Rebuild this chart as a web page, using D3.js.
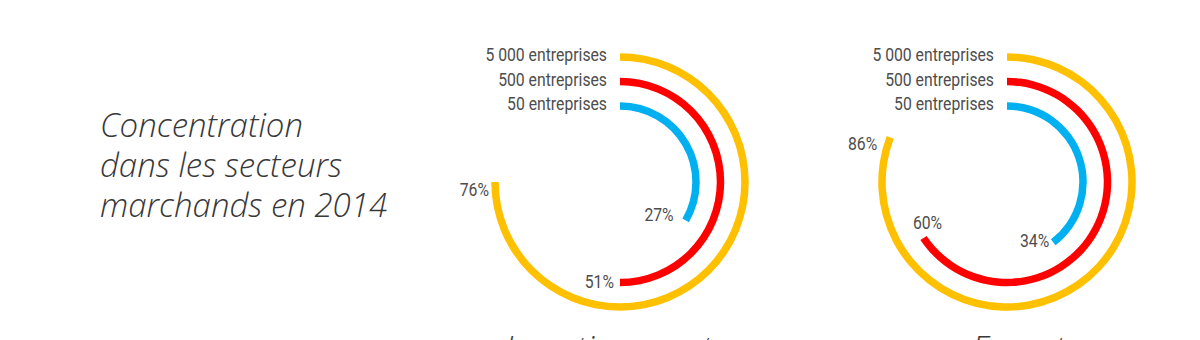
<!DOCTYPE html>
<html>
<head>
<meta charset="utf-8">
<script src="https://cdn.jsdelivr.net/npm/d3@7/dist/d3.min.js"></script>
<style>
  html, body { margin: 0; padding: 0; background: #ffffff; }
  svg { display: block; }
  .title { font-family: "Open Sans", Lato, sans-serif; font-style: italic; font-weight: 300; fill: #383838; }
  .lbl { font-family: Roboto, "DejaVu Sans", sans-serif; font-weight: 400; fill: #4d4d4d; }
</style>
</head>
<body>
<svg id="chart" width="1200" height="340"></svg>
<script>
// ---- data ----
const titleLines = ["Concentration", "dans les secteurs", "marchands en 2014"];
const categories = ["Investissement", "Export"];
const series = ["5 000 entreprises", "500 entreprises", "50 entreprises"];
const seriesColors = ["#FFC000", "#FF0000", "#00B0F0"];
// labelled shares (%)
const investissementShare = [76, 51, 27];
const exportShare = [86, 60, 34];
// arc extent as drawn in the picture (fraction of a full turn)
const investissementArc = [0.75, 0.50, 0.334];
const exportArc = [0.808, 0.656, 0.396];

const shares = [investissementShare, exportShare];
const arcs = [investissementArc, exportArc];

// ---- layout ----
const svg = d3.select("#chart");
const centersX = d3.scalePoint().domain(categories).range([620, 1007]);
const cy = 182;
const radius = d3.scalePoint().domain(series).range([125, 76]);
const angle = d3.scaleLinear().domain([0, 1]).range([0, 2 * Math.PI]);
const color = d3.scaleOrdinal().domain(series).range(seriesColors);
const strokeW = 7.5;
const condense = 0.83;

// title
const title = svg.append("text").attr("class", "title").attr("x", 100).attr("y", 137).style("font-size", "33px");
titleLines.forEach((l, i) => {
  title.append("tspan").attr("x", 100).attr("y", 137 + i * 40).text(l);
});

// label nudges relative to arc end (layout only)
const nudge = [
  [{dx: -6, dy: 14, a: "end"}, {dx: -6, dy: 5, a: "end"}, {dx: -12, dy: 1, a: "end"}],
  [{dx: -13, dy: 13, a: "end"}, {dx: 4, dy: -9, a: "middle"}, {dx: -4, dy: 5, a: "end"}]
];

const arcGen = d3.arc();

function condensedText(parent, x, y, anchor, txt) {
  return parent.append("text").attr("class", "lbl")
    .attr("transform", `translate(${x},${y}) scale(${condense},1)`)
    .attr("text-anchor", anchor)
    .style("font-size", "19px")
    .text(txt);
}

categories.forEach((cat, ci) => {
  const g = svg.append("g").attr("transform", `translate(${centersX(cat)},${cy})`);
  series.forEach((s, si) => {
    const r = radius(s);
    const end = angle(arcs[ci][si]);
    g.append("path")
      .attr("d", arcGen({innerRadius: r - strokeW / 2, outerRadius: r + strokeW / 2, startAngle: 0, endAngle: end}))
      .attr("fill", color(s));
    // series label at arc start
    condensedText(g, -13, -r + 4, "end", s);
    // value label at arc end
    const ex = r * Math.sin(end), ey = -r * Math.cos(end);
    const n = nudge[ci][si];
    condensedText(g, ex + n.dx, ey + n.dy, n.a, shares[ci][si] + "%");
  });
  // category title under chart (cut by the frame, as in the reference)
  svg.append("text").attr("class", "title")
    .attr("x", ci === 0 ? 505 : 972).attr("y", 360)
    .attr("text-anchor", "start")
    .style("font-size", "33px")
    .text(cat);
});
</script>
</body>
</html>
